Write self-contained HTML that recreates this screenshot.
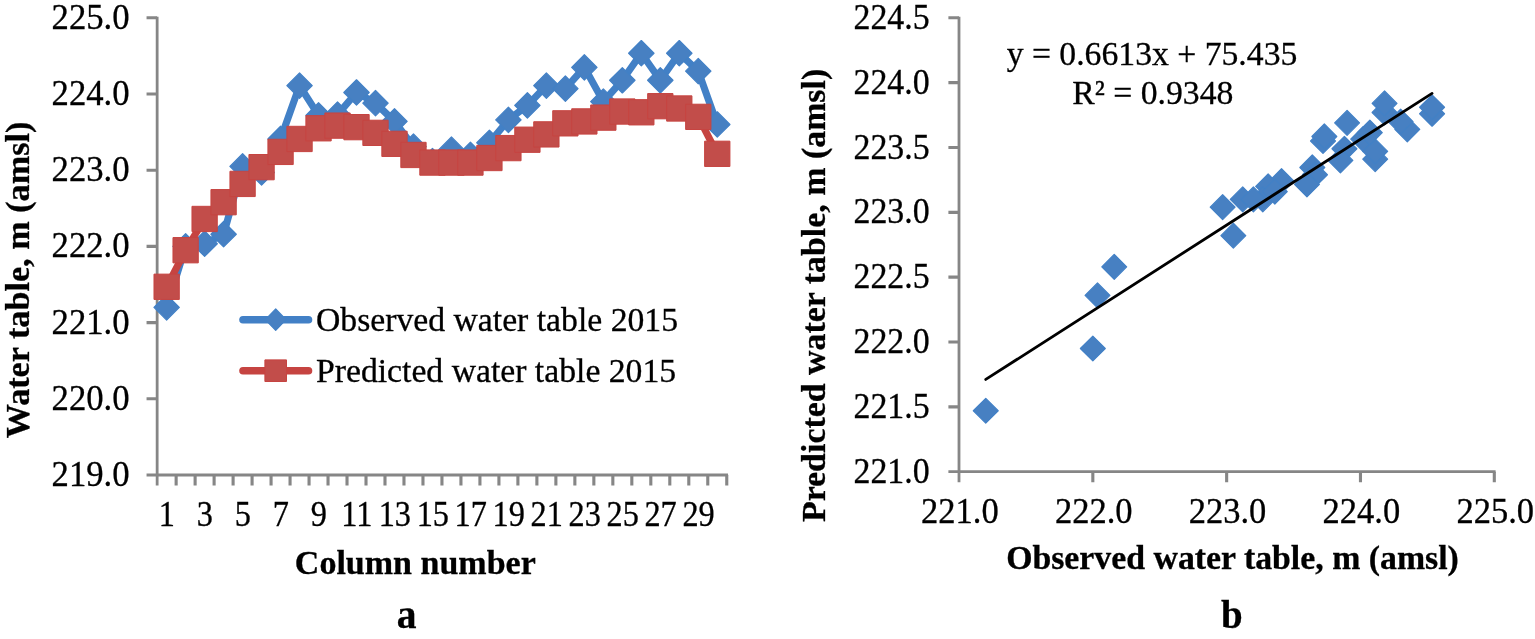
<!DOCTYPE html>
<html lang="en"><head><meta charset="utf-8"><title>Water table charts</title>
<style>html,body{margin:0;padding:0;background:#fff;width:1535px;height:639px;overflow:hidden;}svg{display:block;}text{font-family:"Liberation Serif","Times New Roman",serif;fill:#000;stroke:#000;stroke-width:0.3px;}.t{font-size:33.7px;}.k{font-size:34.7px;}.b{font-size:34.0px;font-weight:bold;}.cap{font-weight:bold;}</style></head><body>
<svg width="1535" height="639" viewBox="0 0 1535 639">
<rect width="1535" height="639" fill="#fff"/>
<g id="chart-a">
<g stroke="#868686" stroke-width="2.8" fill="none">
<path d="M157.15 16.70 V485.40"/>
<path d="M146.55 475.00 H728.06"/>
<path d="M146.55 17.80 H157.15 M146.55 94.00 H157.15 M146.55 170.20 H157.15 M146.55 246.40 H157.15 M146.55 322.60 H157.15 M146.55 398.80 H157.15 M176.14 475.00 V485.40 M195.12 475.00 V485.40 M214.11 475.00 V485.40 M233.10 475.00 V485.40 M252.08 475.00 V485.40 M271.07 475.00 V485.40 M290.06 475.00 V485.40 M309.05 475.00 V485.40 M328.03 475.00 V485.40 M347.02 475.00 V485.40 M366.01 475.00 V485.40 M384.99 475.00 V485.40 M403.98 475.00 V485.40 M422.97 475.00 V485.40 M441.95 475.00 V485.40 M460.94 475.00 V485.40 M479.93 475.00 V485.40 M498.92 475.00 V485.40 M517.90 475.00 V485.40 M536.89 475.00 V485.40 M555.88 475.00 V485.40 M574.86 475.00 V485.40 M593.85 475.00 V485.40 M612.84 475.00 V485.40 M631.82 475.00 V485.40 M650.81 475.00 V485.40 M669.80 475.00 V485.40 M688.79 475.00 V485.40 M707.77 475.00 V485.40 M726.76 475.00 V485.40" stroke-width="3.1"/>
</g>
<text class="k" transform="translate(129.60 28.70) scale(1 1.005)" text-anchor="end">225.0</text>
<text class="k" transform="translate(129.60 104.90) scale(1 1.005)" text-anchor="end">224.0</text>
<text class="k" transform="translate(129.60 181.10) scale(1 1.005)" text-anchor="end">223.0</text>
<text class="k" transform="translate(129.60 257.30) scale(1 1.005)" text-anchor="end">222.0</text>
<text class="k" transform="translate(129.60 333.50) scale(1 1.005)" text-anchor="end">221.0</text>
<text class="k" transform="translate(129.60 409.70) scale(1 1.005)" text-anchor="end">220.0</text>
<text class="k" transform="translate(129.60 485.90) scale(1 1.005)" text-anchor="end">219.0</text>
<text class="k" transform="translate(166.94 526.40) scale(0.93 1.02)" text-anchor="middle">1</text>
<text class="k" transform="translate(204.92 526.40) scale(0.93 1.02)" text-anchor="middle">3</text>
<text class="k" transform="translate(242.89 526.40) scale(0.93 1.02)" text-anchor="middle">5</text>
<text class="k" transform="translate(280.87 526.40) scale(0.93 1.02)" text-anchor="middle">7</text>
<text class="k" transform="translate(318.84 526.40) scale(0.93 1.02)" text-anchor="middle">9</text>
<text class="k" transform="translate(356.81 526.40) scale(0.93 1.02)" text-anchor="middle">11</text>
<text class="k" transform="translate(394.79 526.40) scale(0.93 1.02)" text-anchor="middle">13</text>
<text class="k" transform="translate(432.76 526.40) scale(0.93 1.02)" text-anchor="middle">15</text>
<text class="k" transform="translate(470.74 526.40) scale(0.93 1.02)" text-anchor="middle">17</text>
<text class="k" transform="translate(508.71 526.40) scale(0.93 1.02)" text-anchor="middle">19</text>
<text class="k" transform="translate(546.68 526.40) scale(0.93 1.02)" text-anchor="middle">21</text>
<text class="k" transform="translate(584.66 526.40) scale(0.93 1.02)" text-anchor="middle">23</text>
<text class="k" transform="translate(622.63 526.40) scale(0.93 1.02)" text-anchor="middle">25</text>
<text class="k" transform="translate(660.61 526.40) scale(0.93 1.02)" text-anchor="middle">27</text>
<text class="k" transform="translate(698.58 526.40) scale(0.93 1.02)" text-anchor="middle">29</text>
<text class="b" x="415.3" y="573.6" text-anchor="middle">Column number</text>
<text class="b" transform="translate(28.9 279.9) rotate(-90) scale(1 0.97)" style="font-size:34.2px" text-anchor="middle">Water table, m (amsl)</text>
<polyline points="166.64,307.36 185.63,246.40 204.62,243.73 223.60,234.21 242.59,166.39 261.58,172.49 280.57,138.96 299.55,85.62 318.54,115.34 337.53,114.57 356.51,92.48 375.50,103.14 394.49,121.43 413.47,146.58 432.46,161.06 451.45,149.63 470.44,154.96 489.42,142.77 508.41,119.91 527.40,105.43 546.38,85.62 565.37,88.67 584.36,67.33 603.34,101.62 622.33,80.28 641.32,53.23 660.31,80.28 679.29,53.23 698.28,71.14 717.27,124.48" fill="none" stroke="#4280c6" stroke-width="7.1" stroke-linejoin="round" stroke-linecap="round"/>
<g fill="#4780c2" stroke="#4280c6" stroke-width="1.2" stroke-linejoin="round">
<path d="M166.64 294.66l12.70 12.70l-12.70 12.70l-12.70 -12.70z"/>
<path d="M185.63 233.70l12.70 12.70l-12.70 12.70l-12.70 -12.70z"/>
<path d="M204.62 231.03l12.70 12.70l-12.70 12.70l-12.70 -12.70z"/>
<path d="M223.60 221.51l12.70 12.70l-12.70 12.70l-12.70 -12.70z"/>
<path d="M242.59 153.69l12.70 12.70l-12.70 12.70l-12.70 -12.70z"/>
<path d="M261.58 159.79l12.70 12.70l-12.70 12.70l-12.70 -12.70z"/>
<path d="M280.57 126.26l12.70 12.70l-12.70 12.70l-12.70 -12.70z"/>
<path d="M299.55 72.92l12.70 12.70l-12.70 12.70l-12.70 -12.70z"/>
<path d="M318.54 102.64l12.70 12.70l-12.70 12.70l-12.70 -12.70z"/>
<path d="M337.53 101.87l12.70 12.70l-12.70 12.70l-12.70 -12.70z"/>
<path d="M356.51 79.78l12.70 12.70l-12.70 12.70l-12.70 -12.70z"/>
<path d="M375.50 90.44l12.70 12.70l-12.70 12.70l-12.70 -12.70z"/>
<path d="M394.49 108.73l12.70 12.70l-12.70 12.70l-12.70 -12.70z"/>
<path d="M413.47 133.88l12.70 12.70l-12.70 12.70l-12.70 -12.70z"/>
<path d="M432.46 148.36l12.70 12.70l-12.70 12.70l-12.70 -12.70z"/>
<path d="M451.45 136.93l12.70 12.70l-12.70 12.70l-12.70 -12.70z"/>
<path d="M470.44 142.26l12.70 12.70l-12.70 12.70l-12.70 -12.70z"/>
<path d="M489.42 130.07l12.70 12.70l-12.70 12.70l-12.70 -12.70z"/>
<path d="M508.41 107.21l12.70 12.70l-12.70 12.70l-12.70 -12.70z"/>
<path d="M527.40 92.73l12.70 12.70l-12.70 12.70l-12.70 -12.70z"/>
<path d="M546.38 72.92l12.70 12.70l-12.70 12.70l-12.70 -12.70z"/>
<path d="M565.37 75.97l12.70 12.70l-12.70 12.70l-12.70 -12.70z"/>
<path d="M584.36 54.63l12.70 12.70l-12.70 12.70l-12.70 -12.70z"/>
<path d="M603.34 88.92l12.70 12.70l-12.70 12.70l-12.70 -12.70z"/>
<path d="M622.33 67.58l12.70 12.70l-12.70 12.70l-12.70 -12.70z"/>
<path d="M641.32 40.53l12.70 12.70l-12.70 12.70l-12.70 -12.70z"/>
<path d="M660.31 67.58l12.70 12.70l-12.70 12.70l-12.70 -12.70z"/>
<path d="M679.29 40.53l12.70 12.70l-12.70 12.70l-12.70 -12.70z"/>
<path d="M698.28 58.44l12.70 12.70l-12.70 12.70l-12.70 -12.70z"/>
<path d="M717.27 111.78l12.70 12.70l-12.70 12.70l-12.70 -12.70z"/>
</g>
<polyline points="166.64,286.79 185.63,250.21 204.62,218.97 223.60,202.20 242.59,183.92 261.58,167.15 280.57,151.91 299.55,138.96 318.54,128.29 337.53,125.62 356.51,127.15 375.50,132.86 394.49,143.83 413.47,154.96 432.46,162.58 451.45,162.58 470.44,162.58 489.42,158.01 508.41,148.10 527.40,139.72 546.38,134.39 565.37,123.34 584.36,121.43 603.34,117.62 622.33,111.53 641.32,112.29 660.31,106.19 679.29,108.48 698.28,116.86 717.27,153.82" fill="none" stroke="#c64441" stroke-width="7.1" stroke-linejoin="round" stroke-linecap="round"/>
<g fill="#c24d4a" stroke="#c64441" stroke-width="1" stroke-linejoin="round">
<rect x="153.99" y="274.14" width="25.30" height="25.30"/>
<rect x="172.98" y="237.56" width="25.30" height="25.30"/>
<rect x="191.97" y="206.32" width="25.30" height="25.30"/>
<rect x="210.95" y="189.55" width="25.30" height="25.30"/>
<rect x="229.94" y="171.27" width="25.30" height="25.30"/>
<rect x="248.93" y="154.50" width="25.30" height="25.30"/>
<rect x="267.92" y="139.26" width="25.30" height="25.30"/>
<rect x="286.90" y="126.31" width="25.30" height="25.30"/>
<rect x="305.89" y="115.64" width="25.30" height="25.30"/>
<rect x="324.88" y="112.97" width="25.30" height="25.30"/>
<rect x="343.86" y="114.50" width="25.30" height="25.30"/>
<rect x="362.85" y="120.21" width="25.30" height="25.30"/>
<rect x="381.84" y="131.18" width="25.30" height="25.30"/>
<rect x="400.82" y="142.31" width="25.30" height="25.30"/>
<rect x="419.81" y="149.93" width="25.30" height="25.30"/>
<rect x="438.80" y="149.93" width="25.30" height="25.30"/>
<rect x="457.79" y="149.93" width="25.30" height="25.30"/>
<rect x="476.77" y="145.36" width="25.30" height="25.30"/>
<rect x="495.76" y="135.45" width="25.30" height="25.30"/>
<rect x="514.75" y="127.07" width="25.30" height="25.30"/>
<rect x="533.73" y="121.74" width="25.30" height="25.30"/>
<rect x="552.72" y="110.69" width="25.30" height="25.30"/>
<rect x="571.71" y="108.78" width="25.30" height="25.30"/>
<rect x="590.69" y="104.97" width="25.30" height="25.30"/>
<rect x="609.68" y="98.88" width="25.30" height="25.30"/>
<rect x="628.67" y="99.64" width="25.30" height="25.30"/>
<rect x="647.66" y="93.54" width="25.30" height="25.30"/>
<rect x="666.64" y="95.83" width="25.30" height="25.30"/>
<rect x="685.63" y="104.21" width="25.30" height="25.30"/>
<rect x="704.62" y="141.17" width="25.30" height="25.30"/>
</g>
<path d="M243 319.7H308.5" stroke="#4280c6" stroke-width="7.6" stroke-linecap="round" fill="none"/>
<path d="M275.7 309l10.4 10.7l-10.4 10.7l-10.4 -10.7z" fill="#4780c2" stroke="#4280c6" stroke-width="1.2" stroke-linejoin="round"/>
<text class="t" x="316" y="330.7">Observed water table 2015</text>
<path d="M243 370.7H308.5" stroke="#c64441" stroke-width="7.6" stroke-linecap="round" fill="none"/>
<rect x="264.9" y="359.9" width="21.6" height="21.6" fill="#c24d4a" stroke="#c64441" stroke-width="1" stroke-linejoin="round"/>
<text class="t" x="316" y="381.7">Predicted water table 2015</text>
<text class="cap" x="406.6" y="627.7" text-anchor="middle" font-size="39.5">a</text>
</g>
<g id="chart-b">
<g stroke="#868686" stroke-width="2.8" fill="none">
<path d="M959.00 16.70 V482.20"/>
<path d="M948.40 471.70 H1495.60"/>
<path d="M948.40 17.80 H959.00 M948.40 82.64 H959.00 M948.40 147.49 H959.00 M948.40 212.33 H959.00 M948.40 277.17 H959.00 M948.40 342.01 H959.00 M948.40 406.86 H959.00 M1092.83 471.70 V482.20 M1226.65 471.70 V482.20 M1360.47 471.70 V482.20 M1494.30 471.70 V482.20" stroke-width="3.1"/>
</g>
<text class="k" transform="translate(929.60 28.90) scale(0.975 1.02)" text-anchor="end">224.5</text>
<text class="k" transform="translate(929.60 93.74) scale(0.975 1.02)" text-anchor="end">224.0</text>
<text class="k" transform="translate(929.60 158.59) scale(0.975 1.02)" text-anchor="end">223.5</text>
<text class="k" transform="translate(929.60 223.43) scale(0.975 1.02)" text-anchor="end">223.0</text>
<text class="k" transform="translate(929.60 288.27) scale(0.975 1.02)" text-anchor="end">222.5</text>
<text class="k" transform="translate(929.60 353.11) scale(0.975 1.02)" text-anchor="end">222.0</text>
<text class="k" transform="translate(929.60 417.96) scale(0.975 1.02)" text-anchor="end">221.5</text>
<text class="k" transform="translate(929.60 482.80) scale(0.975 1.02)" text-anchor="end">221.0</text>
<text class="k" transform="translate(959.90 522.70) scale(0.995 1.01)" text-anchor="middle">221.0</text>
<text class="k" transform="translate(1093.73 522.70) scale(0.995 1.01)" text-anchor="middle">222.0</text>
<text class="k" transform="translate(1227.55 522.70) scale(0.995 1.01)" text-anchor="middle">223.0</text>
<text class="k" transform="translate(1361.38 522.70) scale(0.995 1.01)" text-anchor="middle">224.0</text>
<text class="k" transform="translate(1495.20 522.70) scale(0.995 1.01)" text-anchor="middle">225.0</text>
<text class="b" x="1232.5" y="568.5" text-anchor="middle" style="font-size:33.8px">Observed water table, m (amsl)</text>
<text class="b" transform="translate(824.8 295.4) rotate(-90)" style="font-size:33.9px" text-anchor="middle">Predicted water table, m (amsl)</text>
<g fill="#4780c2" stroke="#4280c6" stroke-width="1.2" stroke-linejoin="round">
<path d="M985.76 398.30l12.45 12.45l-12.45 12.45l-12.45 -12.45z"/>
<path d="M1092.83 336.05l12.45 12.45l-12.45 12.45l-12.45 -12.45z"/>
<path d="M1097.51 282.88l12.45 12.45l-12.45 12.45l-12.45 -12.45z"/>
<path d="M1114.24 254.35l12.45 12.45l-12.45 12.45l-12.45 -12.45z"/>
<path d="M1233.34 223.22l12.45 12.45l-12.45 12.45l-12.45 -12.45z"/>
<path d="M1222.64 194.69l12.45 12.45l-12.45 12.45l-12.45 -12.45z"/>
<path d="M1281.52 168.75l12.45 12.45l-12.45 12.45l-12.45 -12.45z"/>
<path d="M1375.20 146.71l12.45 12.45l-12.45 12.45l-12.45 -12.45z"/>
<path d="M1323.00 128.55l12.45 12.45l-12.45 12.45l-12.45 -12.45z"/>
<path d="M1324.34 124.01l12.45 12.45l-12.45 12.45l-12.45 -12.45z"/>
<path d="M1363.15 126.61l12.45 12.45l-12.45 12.45l-12.45 -12.45z"/>
<path d="M1344.42 136.33l12.45 12.45l-12.45 12.45l-12.45 -12.45z"/>
<path d="M1312.30 155.01l12.45 12.45l-12.45 12.45l-12.45 -12.45z"/>
<path d="M1268.14 173.94l12.45 12.45l-12.45 12.45l-12.45 -12.45z"/>
<path d="M1242.71 186.91l12.45 12.45l-12.45 12.45l-12.45 -12.45z"/>
<path d="M1262.78 186.91l12.45 12.45l-12.45 12.45l-12.45 -12.45z"/>
<path d="M1253.41 186.91l12.45 12.45l-12.45 12.45l-12.45 -12.45z"/>
<path d="M1274.83 179.13l12.45 12.45l-12.45 12.45l-12.45 -12.45z"/>
<path d="M1314.97 162.27l12.45 12.45l-12.45 12.45l-12.45 -12.45z"/>
<path d="M1340.40 148.00l12.45 12.45l-12.45 12.45l-12.45 -12.45z"/>
<path d="M1375.20 138.93l12.45 12.45l-12.45 12.45l-12.45 -12.45z"/>
<path d="M1369.84 120.12l12.45 12.45l-12.45 12.45l-12.45 -12.45z"/>
<path d="M1407.31 116.88l12.45 12.45l-12.45 12.45l-12.45 -12.45z"/>
<path d="M1347.09 110.40l12.45 12.45l-12.45 12.45l-12.45 -12.45z"/>
<path d="M1384.56 100.02l12.45 12.45l-12.45 12.45l-12.45 -12.45z"/>
<path d="M1432.07 101.32l12.45 12.45l-12.45 12.45l-12.45 -12.45z"/>
<path d="M1384.56 90.94l12.45 12.45l-12.45 12.45l-12.45 -12.45z"/>
<path d="M1432.07 94.83l12.45 12.45l-12.45 12.45l-12.45 -12.45z"/>
<path d="M1400.62 109.10l12.45 12.45l-12.45 12.45l-12.45 -12.45z"/>
<path d="M1306.94 172.00l12.45 12.45l-12.45 12.45l-12.45 -12.45z"/>
</g>
<path d="M985.76 379.43L1432.07 93.42" stroke="#000" stroke-width="2.8" stroke-linecap="round" fill="none"/>
<text class="t" x="1152" y="65.2" text-anchor="middle">y = 0.6613x + 75.435</text>
<text class="t" x="1152.8" y="103.9" text-anchor="middle">R² = 0.9348</text>
<text class="cap" x="1231.9" y="627.6" text-anchor="middle" font-size="39">b</text>
</g>
</svg>
</body></html>
